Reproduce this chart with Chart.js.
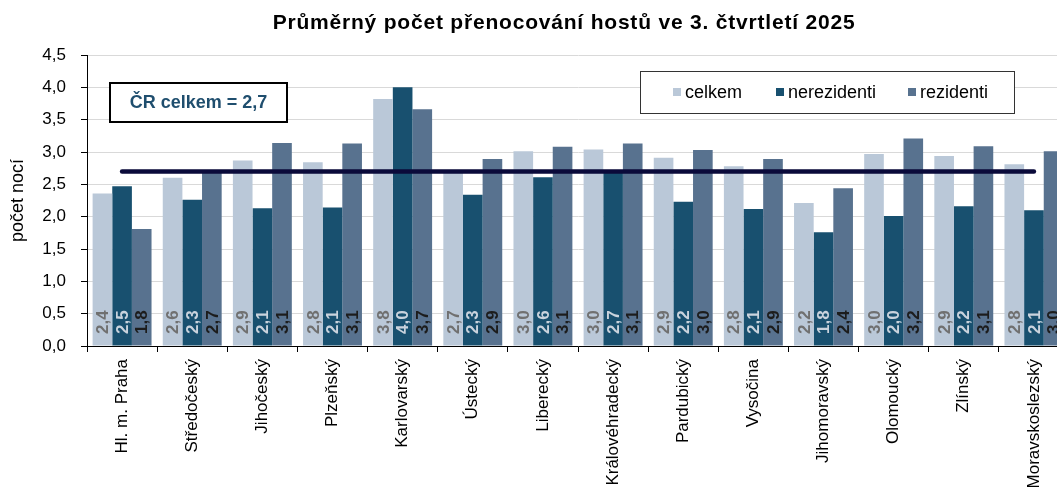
<!DOCTYPE html>
<html>
<head>
<meta charset="utf-8">
<script src="https://cdn.jsdelivr.net/npm/chart.js@4.4.0/dist/chart.umd.min.js"></script>
<style>
  body { margin: 0; overflow: hidden; background: #fff; }
  #wrap { width: 1128px; height: 503px; }
</style>
</head>
<body>
<div id="wrap"><canvas id="myChart" width="1128" height="503"></canvas></div>
<script>
const kraje = ['Hl. m. Praha', 'Středočeský', 'Jihočeský', 'Plzeňský', 'Karlovarský', 'Ústecký',
    'Liberecký', 'Královéhradecký', 'Pardubický', 'Vysočina', 'Jihomoravský', 'Olomoucký',
    'Zlínský', 'Moravskoslezský'];
const celkem = [2.36, 2.60, 2.87, 2.84, 3.82, 2.72, 3.01, 3.04, 2.91, 2.78, 2.21, 2.97, 2.94, 2.81];
const nerezidenti = [2.47, 2.26, 2.13, 2.14, 4.00, 2.34, 2.61, 2.72, 2.23, 2.12, 1.76, 2.01, 2.16, 2.10];
const rezidenti = [1.81, 2.72, 3.14, 3.13, 3.66, 2.89, 3.08, 3.13, 3.03, 2.89, 2.44, 3.21, 3.09, 3.01];
const crCelkem = 2.7;
const nazev = 'Průměrný počet přenocování hostů ve 3. čtvrtletí 2025';

const carka = v => v.toFixed(1).replace('.', ',');
const barvy = ['#bac8d8', '#18506f', '#58728f'];
const barvyPopisku = ['#707070', '#c9d3dd', '#1c1c1c'];
const pismo = '"Liberation Sans", Arial, sans-serif';

// popisky hodnot u paty sloupcu
const popiskyPlugin = {
    id: 'popisky',
    afterDatasetsDraw(chart) {
        const c = chart.ctx;
        const y0 = chart.scales.y.getPixelForValue(0) - 12;
        c.save();
        c.font = 'bold 17px ' + pismo;
        c.textAlign = 'left';
        c.textBaseline = 'middle';
        for (let d = 0; d < 3; d++) {
            const meta = chart.getDatasetMeta(d);
            c.fillStyle = barvyPopisku[d];
            meta.data.forEach((bar, i) => {
                c.save();
                c.translate(bar.x + 1, y0);
                c.rotate(-Math.PI / 2);
                c.fillText(carka(chart.data.datasets[d].data[i]), 0, 0);
                c.restore();
            });
        }
        c.restore();
    }
};

// nadpis, ramecek CR celkem a legenda
const ramecekPlugin = {
    id: 'ramecek',
    afterDraw(chart) {
        const c = chart.ctx;
        c.save();
        c.fillStyle = '#000';
        c.font = 'bold 21px ' + pismo;
        c.letterSpacing = '0.8px';
        c.textAlign = 'center';
        c.textBaseline = 'middle';
        c.fillText(nazev, 564, 23);
        c.letterSpacing = '0px';

        c.fillStyle = '#fff';
        c.fillRect(110, 83, 177, 39);
        c.lineWidth = 2;
        c.strokeStyle = '#000';
        c.strokeRect(110, 83, 177, 39);
        c.fillStyle = '#1f4e6e';
        c.font = 'bold 18px ' + pismo;
        c.fillText('ČR celkem = ' + carka(crCelkem), 198.5, 103);

        c.fillStyle = '#fff';
        c.fillRect(640.5, 71.5, 374, 42);
        c.lineWidth = 1;
        c.strokeStyle = '#333';
        c.strokeRect(640.5, 71.5, 374, 42);
        c.font = '18px ' + pismo;
        c.textAlign = 'left';
        const xs = [673, 776, 908];
        for (let d = 0; d < 3; d++) {
            c.fillStyle = barvy[d];
            c.fillRect(xs[d], 88, 8, 8);
            c.fillStyle = '#000';
            c.fillText(chart.data.datasets[d].label, xs[d] + 12, 93);
        }
        c.restore();
    }
};

const ctx = document.getElementById('myChart').getContext('2d');
const myChart = new Chart(ctx, {
    data: {
        labels: kraje,
        datasets: [
            { type: 'bar', label: 'celkem', data: celkem, backgroundColor: barvy[0], order: 2 },
            { type: 'bar', label: 'nerezidenti', data: nerezidenti, backgroundColor: barvy[1], order: 2 },
            { type: 'bar', label: 'rezidenti', data: rezidenti, backgroundColor: barvy[2], order: 2 },
            {
                type: 'line', label: 'ČR celkem', data: kraje.map(() => crCelkem),
                borderColor: '#0a0a3a', borderWidth: 4.5, pointRadius: 0,
                borderCapStyle: 'round', order: 1
            }
        ]
    },
    options: {
        responsive: false,
        animation: false,
        layout: { padding: { top: 55, right: 59, left: 0, bottom: 0 } },
        datasets: {
            bar: { categoryPercentage: 0.84, barPercentage: 1.0 }
        },
        scales: {
            x: {
                grid: { offset: true, drawOnChartArea: false, tickLength: 6, tickColor: '#000' },
                border: { color: '#000', width: 1 },
                ticks: {
                    color: '#000', minRotation: 90, maxRotation: 90, autoSkip: false, padding: 7,
                    font: { family: pismo, size: 17 }
                },
                afterFit: s => { s.height = 157; }
            },
            y: {
                min: 0,
                max: 4.5,
                ticks: {
                    stepSize: 0.5, color: '#000', padding: 15,
                    font: { family: pismo, size: 17 },
                    callback: v => carka(v)
                },
                grid: { color: '#d9d9d9', tickColor: '#000', tickLength: 6 },
                border: { color: '#000', width: 1 },
                title: {
                    display: true, text: 'počet nocí', color: '#000', padding: { top: 7, bottom: 0 },
                    font: { family: pismo, size: 18 }
                },
                afterFit: s => { s.width = 87; }
            }
        },
        plugins: {
            legend: { display: false },
            title: { display: false },
            tooltip: { enabled: false }
        }
    },
    plugins: [popiskyPlugin, ramecekPlugin]
});
</script>
</body>
</html>
